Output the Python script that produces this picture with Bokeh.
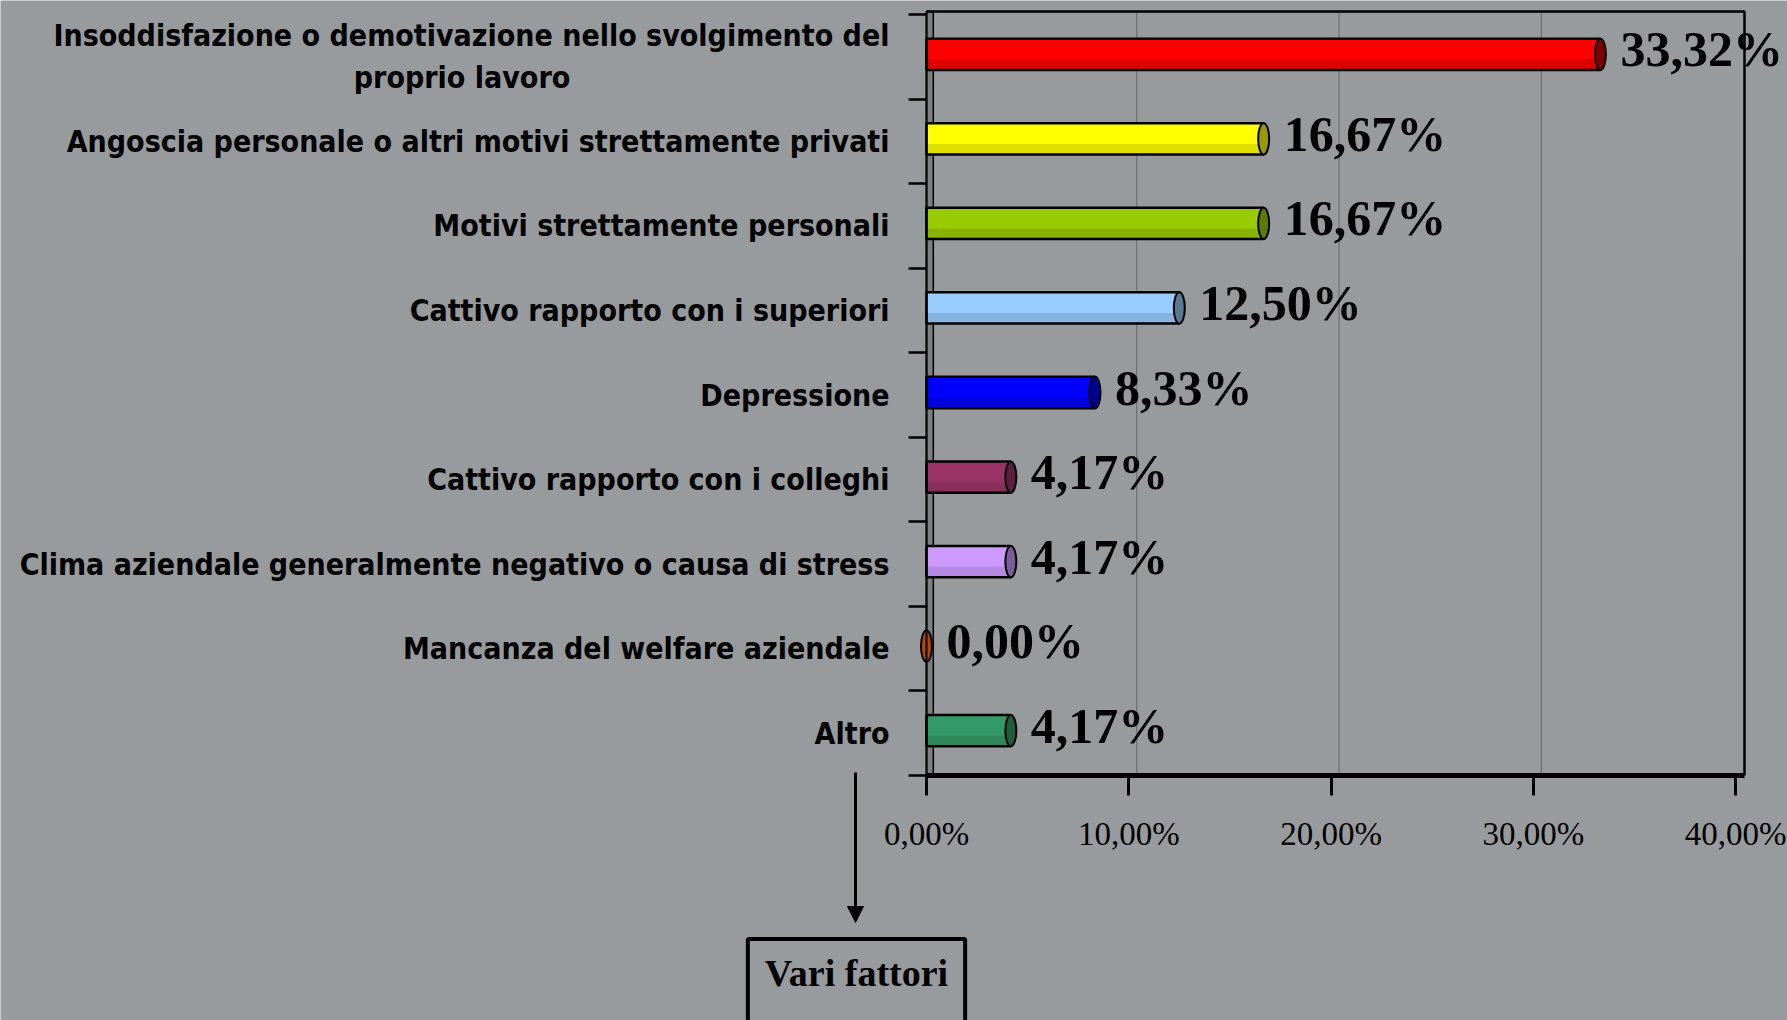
from bokeh.plotting import figure
from bokeh.models import (ColumnDataSource, FixedTicker, LabelSet, Label, Arrow,
                          NormalHead, Range1d)
from bokeh.embed import file_html
from bokeh.resources import INLINE

# ---- data ----
categories = [
    "Insoddisfazione o demotivazione nello svolgimento del\nproprio lavoro",
    "Angoscia personale o altri motivi strettamente privati",
    "Motivi strettamente personali",
    "Cattivo rapporto con i superiori",
    "Depressione",
    "Cattivo rapporto con i colleghi",
    "Clima aziendale generalmente negativo o causa di stress",
    "Mancanza del welfare aziendale",
    "Altro",
]
values = [33.32, 16.67, 16.67, 12.50, 8.33, 4.17, 4.17, 0.00, 4.17]
bar_colors = ["#ff0000", "#ffff00", "#99cc00", "#99ccff", "#0000ff",
              "#993366", "#cc99ff", "#cc6600", "#339966"]
shade_colors = ["#dd0000", "#e0e000", "#88b400", "#86b4e0", "#0000dd",
                "#86305a", "#b487e0", "#b05800", "#2d8759"]
cap_colors = ["#800000", "#999900", "#5c7a00", "#5a7891", "#000099",
              "#5c1f3d", "#7a5c99", "#b34700", "#1f5c3d"]
x_ticks = [0, 10, 20, 30, 40]
x_tick_labels = ["0,00%", "10,00%", "20,00%", "30,00%", "40,00%"]
grid_x = [10, 20, 30]
box_text = "Vari fattori"

# ---- layout (pixels) ----
W, H = 1787, 1020
X0_PX, X40_PX = 926, 1735          # screen x of 0% and 40%
Y9_PX, Y0_PX = 14, 775             # screen y of top / bottom category boundaries
FRAME_RIGHT_PX, FRAME_TOP_PX = 1744, 11
DEPTH_PX = 8                       # 3-D depth of the back wall

n = len(categories)
sx = (X40_PX - X0_PX) / 40.0
sy = (Y0_PX - Y9_PX) / n
x_start, x_end = -X0_PX / sx, (W - X0_PX) / sx
y_start, y_end = -(H - Y0_PX) / sy, n + Y9_PX / sy
X_MAX = (FRAME_RIGHT_PX - X0_PX) / sx
Y_TOP = n + (Y9_PX - FRAME_TOP_PX) / sy
DEPTH = DEPTH_PX / sx
BAR_SHIFT = 2.5 / sy

centers = [n - 0.5 - i for i in range(n)]
bar_y = [c + BAR_SHIFT for c in centers]
labels = [f"{v:.2f}".replace(".", ",") + "%" for v in values]

# centre the second line of the two-line label under the first one
disp_cats = [c + ("\u00a0" * 34 if "\n" in c else "") for c in categories]

src = ColumnDataSource(dict(y=bar_y, v=values, c=bar_colors, s=shade_colors,
                            cap=cap_colors, lab=labels,
                            ys=[b - 0.12 for b in bar_y]))

BG = "#979b9e"
p = figure(width=W, height=H, output_backend="svg", toolbar_location=None,
           x_range=Range1d(x_start, x_end), y_range=Range1d(y_start, y_end),
           min_border=0)
p.background_fill_color = BG
p.border_fill_color = BG
p.outline_line_color = None

# back wall strip, grid lines and chart frame
p.quad(left=0, right=DEPTH * 0.85, bottom=0, top=Y_TOP, fill_color="#7f7f7f",
       line_color="black", line_width=1.5)
gx = [g + DEPTH for g in grid_x]
p.segment(x0=gx, y0=[0] * len(gx), x1=gx, y1=[Y_TOP] * len(gx),
          line_color="#666666", line_width=1)
p.line(x=[0, X_MAX, X_MAX], y=[Y_TOP, Y_TOP, 0], line_color="black", line_width=2.5)

bar_h = 0.37
p.hbar(y="y", left=0, right="v", height=bar_h, fill_color="c", line_color=None, source=src)
p.hbar(y="ys", left=0, right="v", height=0.12, fill_color="s", line_color=None, source=src)
p.hbar(y="y", left=0, right="v", height=bar_h, fill_color=None, line_color="black",
       line_width=2.5, source=src)
p.ellipse(x="v", y="y", width=11, width_units="screen", height=bar_h,
          fill_color="cap", line_color="black", line_width=2, source=src)

p.add_layout(LabelSet(x="v", y="y", text="lab", source=src, x_offset=20, y_offset=5,
                      text_font="Liberation Serif", text_font_style="bold",
                      text_font_size="50px", text_baseline="middle", text_color="black"))

# axes
xa = p.xaxis[0]
xa.fixed_location = 0
xa.bounds = (0, X_MAX)
xa.ticker = FixedTicker(ticks=x_ticks)
xa.major_label_overrides = {t: l for t, l in zip(x_ticks, x_tick_labels)}
xa.major_label_text_font = "Liberation Serif"
xa.major_label_text_font_size = "33px"
xa.major_label_text_color = "black"
xa.axis_line_width = 5
xa.axis_line_color = "black"
xa.major_tick_out = 20
xa.major_tick_in = 0
xa.major_tick_line_width = 3
xa.minor_tick_line_color = None
xa.major_label_standoff = 20

ya = p.yaxis[0]
ya.fixed_location = 0
ya.bounds = (0, Y_TOP)
ya.ticker = FixedTicker(ticks=centers, minor_ticks=list(range(n + 1)))
ya.major_label_overrides = {c: t for c, t in zip(centers, disp_cats)}
ya.major_label_text_font = "DejaVu Sans Condensed"
ya.major_label_text_font_style = "bold"
ya.major_label_text_font_size = "30px"
ya.major_label_text_color = "black"
ya.major_tick_line_color = None
ya.major_tick_out = 0
ya.minor_tick_out = 18
ya.minor_tick_in = 0
ya.minor_tick_line_width = 2.5
ya.minor_tick_line_color = "black"
ya.axis_line_width = 2
ya.axis_line_color = "black"
ya.major_label_standoff = 19

p.xgrid.grid_line_color = None
p.ygrid.grid_line_color = None

# arrow and box below the chart (screen units, origin bottom-left)
p.add_layout(Arrow(x_start=855, y_start=H - 772, x_end=855, y_end=H - 922,
                   start_units="screen", end_units="screen", line_width=3,
                   line_color="black",
                   end=NormalHead(size=16, fill_color="black", line_color="black")))
p.add_layout(Label(x=856, y=H - 986, x_units="screen", y_units="screen", text=box_text,
                   text_align="center", text_baseline="middle",
                   text_font="Liberation Serif", text_font_style="bold",
                   text_font_size="38px", text_color="black",
                   border_line_color="black", border_line_width=4,
                   padding=dict(left=17, right=17, top=13, bottom=40)))

open("out.html", "w").write(file_html(p, INLINE))
